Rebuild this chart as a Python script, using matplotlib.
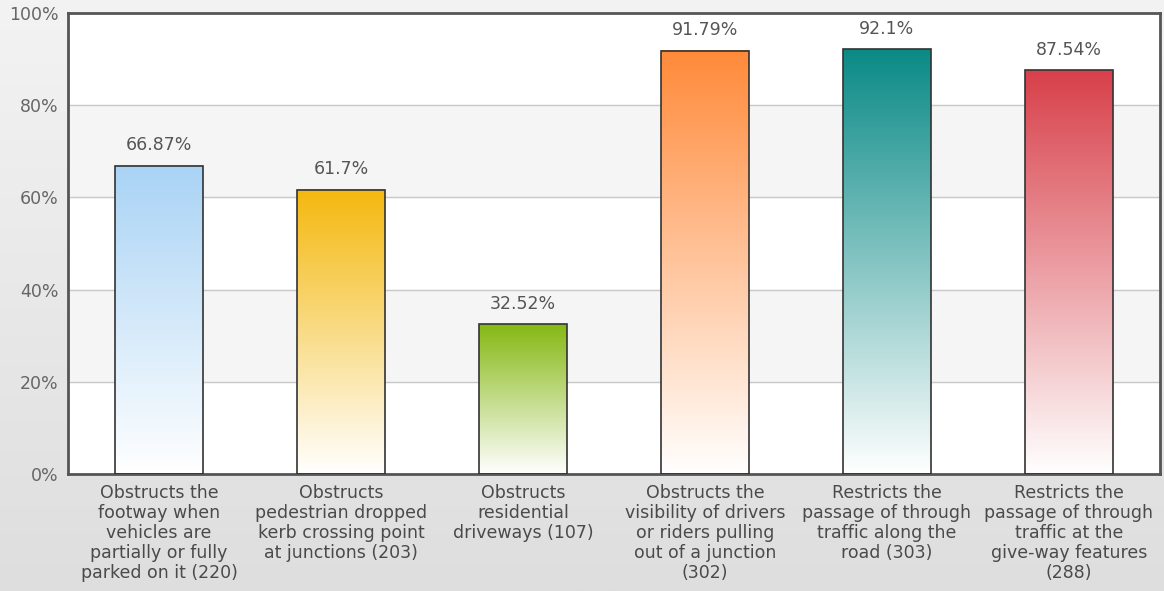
import numpy as np
import matplotlib.pyplot as plt
from matplotlib.colors import LinearSegmentedColormap

# Data
categories = [
    "Obstructs the\nfootway when\nvehicles are\npartially or fully\nparked on it (220)",
    "Obstructs\npedestrian dropped\nkerb crossing point\nat junctions (203)",
    "Obstructs\nresidential\ndriveways (107)",
    "Obstructs the\nvisibility of drivers\nor riders pulling\nout of a junction\n(302)",
    "Restricts the\npassage of through\ntraffic along the\nroad (303)",
    "Restricts the\npassage of through\ntraffic at the\ngive-way features\n(288)",
]
values = [66.87, 61.7, 32.52, 91.79, 92.1, 87.54]
value_labels = ["66.87%", "61.7%", "32.52%", "91.79%", "92.1%", "87.54%"]
colors = ["#a9d3f5", "#f4b80e", "#86b814", "#ff8a3a", "#0a8a86", "#d8404a"]
yticks = [0, 20, 40, 60, 80, 100]

fig = plt.figure(figsize=(11.64, 5.91), dpi=100)

# light gray gradient figure background
bg = fig.add_axes([0, 0, 1, 1], zorder=-10)
bg.imshow(np.linspace(0, 1, 256).reshape(-1, 1), aspect="auto", extent=[0, 1, 0, 1],
          cmap=LinearSegmentedColormap.from_list("bg", ["#f3f3f3", "#dedede"]))
bg.axis("off")

ax = fig.add_axes([68 / 1164, 1 - 474 / 591, (1160 - 68) / 1164, (474 - 13) / 591])
ax.set_xlim(-0.5, len(values) - 0.5)
ax.set_ylim(0, 100)

# alternating bands
for i in range(len(yticks) - 1):
    if i % 2 == 1:
        ax.axhspan(yticks[i], yticks[i + 1], color="#f5f5f5", zorder=0)
for y in yticks[1:-1]:
    ax.axhline(y, color="#c8c8c8", lw=1, zorder=1)

width = 0.48
for i, (v, c) in enumerate(zip(values, colors)):
    cmap = LinearSegmentedColormap.from_list("g%d" % i, ["#ffffff", c])
    ax.imshow(np.linspace(0, 1, 256).reshape(-1, 1), origin="lower", aspect="auto",
              extent=[i - width / 2, i + width / 2, 0, v], cmap=cmap, zorder=2)
    ax.bar(i, v, width=width, facecolor="none", edgecolor="#333333", lw=1.2, zorder=3)
    ax.text(i, v + 2.5, value_labels[i], ha="center", va="bottom", fontsize=12.5,
            color="#555555", zorder=4)

ax.set_xlim(-0.5, len(values) - 0.5)
ax.set_ylim(0, 100)
ax.set_yticks(yticks)
ax.set_yticklabels([f"{t}%" for t in yticks], fontsize=12.5, color="#666666")
ax.set_xticks(range(len(values)))
ax.set_xticklabels(categories, fontsize=12.5, color="#4a4a4a", linespacing=1.15)
ax.tick_params(length=0, pad=7)
ax.tick_params(axis="x", pad=7)
for s in ax.spines.values():
    s.set_color("#555555")
    s.set_linewidth(2)

fig.savefig("out.png", dpi=100)
